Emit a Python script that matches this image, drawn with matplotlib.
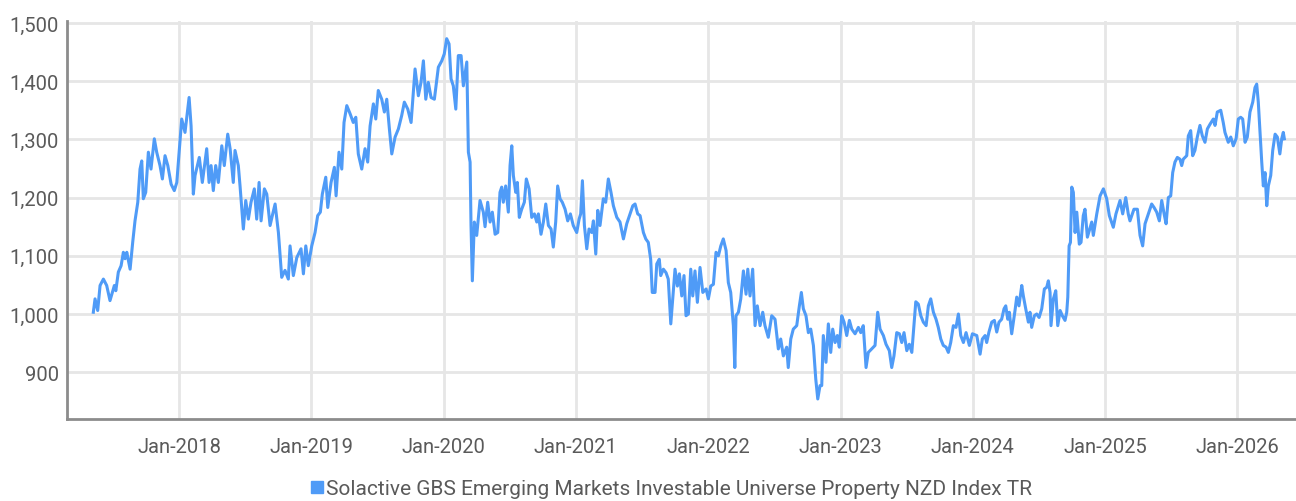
import matplotlib
matplotlib.use("Agg")
import matplotlib.pyplot as plt
from matplotlib.lines import Line2D

# time as decimal years, index level
t_years = [
2017.352,2017.365,2017.385,2017.403,2017.428,2017.453,2017.478,2017.511,2017.522,2017.541,
2017.562,2017.579,2017.592,2017.605,2017.630,2017.650,2017.667,2017.688,2017.705,2017.718,
2017.730,2017.748,2017.768,2017.788,2017.813,2017.831,2017.856,2017.874,2017.894,2017.915,
2017.940,2017.964,2017.983,2017.995,2018.020,2018.045,2018.076,2018.091,2018.108,2018.121,
2018.153,2018.176,2018.209,2018.227,2018.242,2018.259,2018.277,2018.297,2018.323,2018.342,
2018.368,2018.386,2018.410,2018.423,2018.448,2018.461,2018.486,2018.504,2018.524,2018.544,
2018.569,2018.587,2018.605,2018.620,2018.645,2018.663,2018.688,2018.705,2018.726,2018.751,
2018.776,2018.801,2018.826,2018.839,2018.864,2018.890,2018.922,2018.940,2018.958,2018.977,
2019.003,2019.028,2019.048,2019.068,2019.083,2019.109,2019.124,2019.149,2019.174,2019.187,
2019.209,2019.230,2019.247,2019.268,2019.293,2019.317,2019.336,2019.355,2019.381,2019.406,
2019.426,2019.444,2019.469,2019.487,2019.506,2019.532,2019.552,2019.570,2019.590,2019.608,
2019.633,2019.658,2019.683,2019.703,2019.729,2019.754,2019.784,2019.809,2019.829,2019.847,
2019.865,2019.884,2019.905,2019.930,2019.960,2019.986,2020.005,2020.023,2020.041,2020.056,
2020.073,2020.092,2020.111,2020.132,2020.149,2020.175,2020.187,2020.200,2020.207,2020.217,
2020.232,2020.250,2020.275,2020.300,2020.313,2020.333,2020.351,2020.368,2020.389,2020.409,
2020.426,2020.439,2020.451,2020.469,2020.489,2020.502,2020.515,2020.527,2020.545,2020.557,
2020.572,2020.590,2020.610,2020.625,2020.646,2020.666,2020.686,2020.704,2020.716,2020.736,
2020.754,2020.772,2020.792,2020.812,2020.829,2020.847,2020.862,2020.880,2020.897,2020.918,
2020.938,2020.958,2020.980,2021.006,2021.024,2021.036,2021.049,2021.064,2021.082,2021.099,
2021.119,2021.132,2021.150,2021.165,2021.182,2021.207,2021.225,2021.245,2021.265,2021.283,
2021.309,2021.333,2021.359,2021.384,2021.409,2021.430,2021.447,2021.467,2021.485,2021.510,
2021.528,2021.547,2021.565,2021.577,2021.598,2021.611,2021.630,2021.641,2021.661,2021.681,
2021.698,2021.717,2021.732,2021.749,2021.767,2021.782,2021.800,2021.817,2021.832,2021.850,
2021.868,2021.883,2021.900,2021.918,2021.938,2021.959,2021.984,2022.001,2022.019,2022.039,
2022.059,2022.077,2022.095,2022.114,2022.135,2022.152,2022.170,2022.190,2022.201,2022.210,
2022.228,2022.246,2022.266,2022.286,2022.299,2022.316,2022.336,2022.354,2022.371,2022.392,
2022.412,2022.429,2022.454,2022.480,2022.505,2022.530,2022.548,2022.568,2022.593,2022.605,
2022.624,2022.643,2022.669,2022.689,2022.704,2022.719,2022.739,2022.757,2022.775,2022.795,
2022.813,2022.828,2022.845,2022.858,2022.870,2022.890,2022.908,2022.926,2022.941,2022.959,
2022.976,2022.991,2023.009,2023.027,2023.047,2023.067,2023.085,2023.110,2023.135,2023.153,
2023.172,2023.193,2023.210,2023.236,2023.261,2023.281,2023.299,2023.324,2023.344,2023.369,
2023.387,2023.404,2023.425,2023.445,2023.463,2023.480,2023.501,2023.520,2023.539,2023.551,
2023.569,2023.588,2023.607,2023.626,2023.647,2023.664,2023.682,2023.702,2023.722,2023.739,
2023.758,2023.777,2023.798,2023.815,2023.833,2023.853,2023.873,2023.891,2023.909,2023.929,
2023.949,2023.974,2023.997,2024.030,2024.055,2024.072,2024.093,2024.105,2024.122,2024.143,
2024.163,2024.181,2024.198,2024.218,2024.236,2024.249,2024.264,2024.276,2024.294,2024.319,
2024.332,2024.349,2024.370,2024.382,2024.400,2024.420,2024.432,2024.445,2024.465,2024.483,
2024.501,2024.521,2024.541,2024.559,2024.571,2024.584,2024.591,2024.609,2024.627,2024.642,
2024.660,2024.677,2024.697,2024.710,2024.718,2024.728,2024.738,2024.748,2024.760,2024.773,
2024.786,2024.805,2024.818,2024.835,2024.848,2024.866,2024.899,2024.911,2024.937,2024.962,
2024.987,2025.012,2025.032,2025.062,2025.082,2025.113,2025.133,2025.156,2025.175,2025.188,
2025.218,2025.244,2025.264,2025.284,2025.302,2025.327,2025.352,2025.370,2025.390,2025.410,
2025.428,2025.446,2025.461,2025.478,2025.496,2025.511,2025.528,2025.546,2025.566,2025.579,
2025.591,2025.617,2025.629,2025.647,2025.662,2025.679,2025.697,2025.717,2025.735,2025.755,
2025.773,2025.793,2025.818,2025.831,2025.848,2025.874,2025.893,2025.906,2025.931,2025.950,
2025.969,2025.990,2026.007,2026.025,2026.040,2026.058,2026.075,2026.095,2026.116,2026.133,
2026.146,2026.158,2026.171,2026.184,2026.196,2026.209,2026.222,2026.234,2026.252,2026.267,
2026.285,2026.302,2026.321,2026.335,2026.347,2026.355,
]

index_values = [
1003,1026,1006,1049,1060,1049,1023,1049,1040,1072,
1083,1106,1095,1106,1077,1124,1160,1192,1249,1263,
1198,1209,1278,1249,1301,1278,1255,1232,1272,1255,
1223,1212,1226,1261,1335,1312,1372,1323,1206,1238,
1269,1226,1284,1226,1255,1212,1255,1226,1289,1255,
1309,1284,1226,1281,1255,1220,1146,1195,1163,1192,
1215,1163,1226,1160,1215,1206,1152,1169,1189,1140,
1063,1075,1060,1117,1066,1097,1112,1069,1117,1083,
1117,1140,1169,1175,1206,1235,1183,1226,1252,1203,
1278,1249,1329,1358,1344,1329,1338,1275,1249,1284,
1261,1323,1361,1335,1384,1369,1347,1369,1318,1275,
1304,1318,1341,1364,1352,1329,1421,1375,1398,1435,
1369,1398,1372,1369,1424,1435,1447,1473,1464,1404,
1392,1352,1444,1444,1392,1433,1278,1261,1152,1057,
1158,1135,1195,1175,1150,1192,1158,1175,1137,1140,
1209,1218,1192,1220,1175,1255,1289,1238,1209,1226,
1166,1180,1192,1232,1215,1166,1172,1158,1172,1137,
1158,1189,1152,1146,1115,1158,1220,1198,1192,1180,
1160,1172,1152,1140,1163,1172,1229,1152,1112,1146,
1140,1160,1103,1178,1152,1198,1192,1232,1209,1186,
1166,1158,1129,1155,1172,1186,1189,1172,1169,1140,
1129,1123,1094,1037,1037,1086,1094,1066,1077,1071,
1060,983,1026,1077,1048,1069,1031,1066,997,1000,
1077,1031,1074,1020,1080,1037,1043,1026,1048,1051,
1106,1100,1117,1129,1109,1054,1037,980,908,997,
1003,1026,1074,1034,1077,1031,1077,980,1014,980,
1003,980,960,997,991,940,957,928,943,908,
957,974,980,1014,1037,1009,997,968,974,946,
888,854,877,877,963,917,983,934,974,951,
963,943,997,986,963,989,974,966,977,968,
980,908,934,940,946,1003,974,963,948,937,
908,928,968,966,951,968,937,948,934,968,
1021,1017,997,986,980,1014,1026,1003,991,977,
957,946,943,934,951,980,977,1000,963,951,
968,946,966,963,931,957,963,951,969,986,
989,969,986,991,1009,1014,991,1003,966,1006,
1029,1014,1049,1031,1009,986,1003,977,997,1000,
994,1009,1043,1046,1057,1037,980,1026,1040,980,
1006,997,989,1003,1029,1117,1123,1218,1209,1140,
1175,1120,1123,1169,1180,1132,1158,1135,1172,1203,
1215,1198,1169,1149,1172,1195,1172,1200,1172,1160,
1180,1180,1135,1117,1155,1172,1189,1183,1175,1160,
1195,1172,1155,1200,1203,1243,1261,1269,1266,1255,
1266,1272,1306,1315,1272,1281,1304,1324,1306,1295,
1318,1326,1335,1324,1347,1350,1329,1312,1295,1304,
1289,1301,1335,1338,1335,1295,1304,1347,1364,1389,
1395,1364,1312,1261,1220,1243,1186,1220,1238,1281,
1309,1304,1275,1301,1312,1301,
]

tick_years = [2018, 2019, 2020, 2021, 2022, 2023, 2024, 2025, 2026]
tick_labels = ["Jan-2018", "Jan-2019", "Jan-2020", "Jan-2021", "Jan-2022",
               "Jan-2023", "Jan-2024", "Jan-2025", "Jan-2026"]
y_ticks = [900, 1000, 1100, 1200, 1300, 1400, 1500]
series_name = "Solactive GBS Emerging Markets Investable Universe Property NZD Index TR"

plt.rcParams['font.family'] = ['Roboto', 'DejaVu Sans']
LINE = "#4f9bf7"
TXT = "#5a5a5a"

fig = plt.figure(figsize=(12.96, 5.02), dpi=100)
ax = fig.add_axes([67/1296, 1-420/502, 1-67/1296, (420-22)/502])

ax.plot(t_years, index_values, color=LINE, lw=2.2, solid_joinstyle='round')

ax.set_xlim(2017.153, 2026.443)
ax.set_ylim(819.6, 1503.4)
ax.set_xticks(tick_years)
ax.set_xticklabels(tick_labels)
ax.set_yticks(y_ticks)
ax.set_yticklabels([f"{v:,}" for v in y_ticks])
ax.grid(True, color="#e6e6e6", lw=2)
ax.set_axisbelow(True)
for s in ("top", "right"):
    ax.spines[s].set_visible(False)
for s in ("left", "bottom"):
    ax.spines[s].set_color("#8c8c8c")
    ax.spines[s].set_linewidth(2)
ax.tick_params(axis='both', length=0, labelsize=14.5, colors=TXT)
ax.tick_params(axis='x', pad=13)
ax.tick_params(axis='y', pad=6)

handle = Line2D([], [], ls='none', marker='s', markersize=8.5, color=LINE)
fig.legend([handle], [series_name], loc='center', bbox_to_anchor=(0.517, 0.024),
           frameon=False, fontsize=15, labelcolor=TXT, handletextpad=0.05,
           handlelength=0.8, borderaxespad=0)

fig.savefig("out.png", dpi=100)
